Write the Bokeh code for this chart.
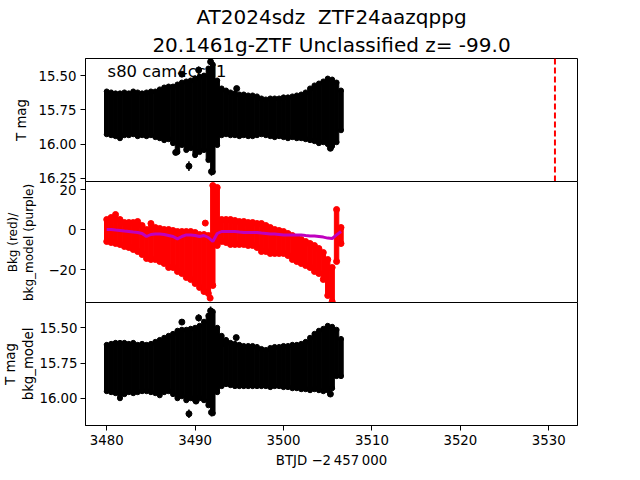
from bokeh.plotting import figure
from bokeh.layouts import column
from bokeh.models import Range1d, FixedTicker, Span, Label, PrintfTickFormatter, Title
from bokeh.embed import file_html
from bokeh.resources import INLINE

# ---------------- data ----------------
title_1 = "AT2024sdz\u00a0 ZTF24aazqppg"
title_2 = "20.1461g-ZTF Unclassified z= -99.0"
sector_text = "s80 cam4ccd1"
x_label = "BTJD \u22122\u2009457\u2009000"
y_label_1 = "T mag"
y_label_2 = "Bkg (red)/\nbkg_model (purple)"
y_label_3 = "T mag\nbkg_model"

times = [3480.0, 3480.5, 3481.0, 3481.5, 3482.0, 3482.5, 3483.0, 3483.5, 3484.0, 3484.5,
         3485.0, 3485.5, 3486.0, 3486.5, 3487.0, 3487.5, 3488.0, 3488.5, 3489.0, 3489.5,
         3490.0, 3490.5, 3491.0, 3491.5, 3492.0, 3492.5, 3493.0, 3493.5, 3494.0, 3494.5,
         3495.0, 3495.5, 3496.0, 3496.5, 3497.0, 3497.5, 3498.0, 3498.5, 3499.0, 3499.5,
         3500.0, 3500.5, 3501.0, 3501.5, 3502.0, 3502.5, 3503.0, 3503.5, 3504.0, 3504.5,
         3505.0, 3505.5, 3506.0, 3506.5]

# panel 1: T mag envelope (bright edge / faint edge)
tmag_top = [15.616, 15.623, 15.630, 15.630, 15.623, 15.630, 15.616, 15.623, 15.630, 15.623,
            15.616, 15.616, 15.601, 15.587, 15.580, 15.580, 15.565, 15.551, 15.543, 15.536,
            15.522, 15.507, 15.500, 15.449, 15.420, 15.536, 15.594, 15.609, 15.623, 15.630,
            15.638, 15.638, 15.645, 15.645, 15.652, 15.667, 15.674, 15.667, 15.667, 15.667,
            15.659, 15.659, 15.652, 15.645, 15.638, 15.623, 15.594, 15.572, 15.558, 15.543,
            15.522, 15.529, 15.551, 15.609]
tmag_bot = [15.928, 15.935, 15.942, 15.957, 15.935, 15.935, 15.928, 15.942, 15.935, 15.942,
            15.935, 15.949, 15.957, 15.971, 15.964, 15.993, 16.058, 16.007, 16.043, 16.029,
            16.080, 16.058, 16.043, 16.116, 16.203, 16.007, 15.935, 15.928, 15.935, 15.935,
            15.942, 15.935, 15.942, 15.942, 15.935, 15.928, 15.935, 15.942, 15.949, 15.942,
            15.949, 15.957, 15.949, 15.957, 15.957, 15.964, 15.971, 15.978, 15.993, 15.986,
            16.000, 16.014, 15.986, 15.899]
out1_t = [3487.8, 3488.5, 3489.3, 3490.4, 3491.75, 3491.85, 3494.7, 3505.3]
out1_m = [16.06, 15.49, 16.16, 15.46, 15.40, 16.20, 15.595, 16.03]
out1_e = [0.02, 0.02, 0.035, 0.025, 0.03, 0.03, 0.015, 0.02]
event_time = 3530.7

# panel 2: background (red) envelope and background model (purple)
bkg_top = [5, 6, 7.5, 5, 3.5, 3.5, 3.5, 4, 2, 0,
           3, 1, 0.5, 0, 0, -0.5, -1, -1, -1, -1,
           -1.5, -2.5, -2.5, -3, 22, 21, 5, 5, 5, 4.5,
           4, 4, 3.5, 3.5, 3, 3, 2, 1, 0, -0.5,
           -1, -2, -3, -4, -5, -6, -7, -8, -9.5, -11.5,
           -15, -19, 10, 1]
bkg_bot = [-6, -6.5, -7, -7.5, -8.5, -9, -10, -11, -12.5, -14.5,
           -15, -15, -16, -17, -19, -19, -21, -22, -24, -25,
           -27, -29, -31, -32, -28, -8, -6, -6.5, -7.5, -7.5,
           -7.5, -7.5, -8, -8, -9, -11, -11, -12, -12, -12,
           -12, -13, -15, -16, -17, -18, -19, -21, -22, -25,
           -33, -36, -16, -7]
bkg_model = [0, 0, -0.3, -0.5, -0.8, -1, -1.3, -1.5, -2, -3.5,
             -2.5, -2.3, -2.3, -2.5, -3, -3.5, -4.7, -3.5, -2.7, -2.7,
             -3, -3.5, -3, -4, -6, -2, -1, -1, -1, -1,
             -1.3, -1.5, -1.5, -1.5, -1.5, -1.8, -2, -2.3, -2.3, -2.5,
             -2.7, -2.7, -2.7, -2.7, -2.7, -3, -3.2, -3.3, -3.5, -3.8,
             -4.3, -4.5, -2.7, -1]
out2_t = [3491.15, 3491.7]
out2_v = [3.2, -34.3]

# panel 3: T mag after bkg_model correction
cmag_top = [15.621, 15.614, 15.607, 15.607, 15.607, 15.614, 15.607, 15.621, 15.614, 15.621,
            15.614, 15.600, 15.586, 15.571, 15.557, 15.543, 15.521, 15.514, 15.514, 15.507,
            15.500, 15.486, 15.457, 15.414, 15.386, 15.500, 15.557, 15.586, 15.607, 15.614,
            15.621, 15.629, 15.629, 15.629, 15.636, 15.650, 15.657, 15.643, 15.636, 15.636,
            15.629, 15.629, 15.621, 15.621, 15.614, 15.600, 15.571, 15.543, 15.521, 15.507,
            15.486, 15.493, 15.514, 15.579]
cmag_bot = [15.950, 15.957, 15.964, 16.000, 15.971, 15.957, 15.964, 15.957, 15.950, 15.950,
            15.957, 15.964, 15.979, 15.957, 15.950, 15.971, 16.000, 15.986, 16.014, 16.000,
            16.014, 16.000, 16.014, 16.050, 16.107, 15.957, 15.914, 15.900, 15.907, 15.914,
            15.914, 15.914, 15.914, 15.914, 15.914, 15.914, 15.914, 15.921, 15.914, 15.914,
            15.921, 15.921, 15.929, 15.929, 15.936, 15.936, 15.943, 15.936, 15.943, 15.950,
            15.943, 15.929, 15.843, 15.843]
out3_t = [3488.5, 3489.3, 3490.1, 3490.4, 3491.75, 3491.85, 3493.2, 3494.65, 3505.3]
out3_m = [15.46, 16.11, 16.02, 15.43, 15.38, 16.10, 15.61, 15.57, 15.97]
out3_e = [0.02, 0.03, 0.02, 0.025, 0.03, 0.03, 0.015, 0.015, 0.02]

x_ticks = [3480, 3490, 3500, 3510, 3520, 3530]
mag_ticks_1 = [15.50, 15.75, 16.00, 16.25]
bkg_ticks = [-20, 0, 20]
mag_ticks_3 = [15.50, 15.75, 16.00]

FONT = "DejaVu Sans"
TICK_FS = "13.3px"

x_range = Range1d(3477.6, 3533.25)


def make_fig(height, y_start, y_end, top, bottom, show_x, ylab, lab_standoff, lbl_standoff):
    p = figure(width=640, height=height, x_range=x_range,
               y_range=Range1d(y_start, y_end),
               output_backend="svg", toolbar_location=None,
               min_border_left=81, min_border_right=63,
               min_border_top=top, min_border_bottom=bottom,
               x_axis_location="below" if show_x else None)
    p.grid.visible = False
    p.outline_line_color = "black"
    p.outline_line_width = 1
    p.outline_line_alpha = 1
    p.background_fill_color = "white"
    p.border_fill_color = "white"
    for ax in p.axis:
        ax.major_label_text_font = FONT
        ax.major_label_text_font_size = TICK_FS
        ax.major_label_text_color = "black"
        ax.major_tick_out = 5
        ax.major_tick_in = 0
        ax.minor_tick_line_color = None
        ax.axis_line_color = "black"
        ax.major_tick_line_color = "black"
        ax.major_label_standoff = lbl_standoff
        ax.axis_label_text_font = FONT
        ax.axis_label_text_font_size = TICK_FS
        ax.axis_label_text_font_style = "normal"
        ax.axis_label_text_color = "black"
    p.yaxis.axis_label = ylab
    p.yaxis.axis_label_standoff = lab_standoff
    return p


# ---------------- panel 1 ----------------
# extra 8 px of bottom border so the lowest tick label is not clipped;
# panel 2 is pulled up over it with a negative margin
p1 = make_fig(189, 16.272, 15.376, 58, 8, False, y_label_1, 6, 4)
p1.title.text = title_1
p1.title.align = "center"
p1.title.text_font = FONT
p1.title.text_font_size = "20px"
p1.title.text_font_style = "normal"
p1.title.text_color = "black"
p1.title.standoff = 0
p1.add_layout(Title(text=title_2, align="center", text_font=FONT, text_font_size="20px",
                    text_font_style="normal", text_color="black", standoff=4), "above")
p1.yaxis.ticker = FixedTicker(ticks=mag_ticks_1)
p1.yaxis.formatter = PrintfTickFormatter(format="%.2f")
p1.vbar(x=times, width=0.5, top=tmag_top, bottom=tmag_bot, color="black")
p1.scatter(times, tmag_top, size=5, color="black")
p1.scatter(times, tmag_bot, size=5, color="black")
p1.segment(x0=out1_t, x1=out1_t,
           y0=[m - e for m, e in zip(out1_m, out1_e)],
           y1=[m + e for m, e in zip(out1_m, out1_e)], line_color="black", line_width=1.5)
p1.scatter(out1_t, out1_m, size=6, color="black")
p1.add_layout(Span(location=event_time, dimension="height", line_color="red",
                   line_width=2, line_dash="6 3"))
p1.add_layout(Label(x=3480.1, y=15.474, text=sector_text, text_font=FONT,
                    text_font_size="16.4px", text_baseline="alphabetic",
                    text_align="left", text_color="black"))

# ---------------- panel 2 ----------------
p2 = make_fig(122, -37, 24, 0, 0, False, y_label_2, 9, 4)
p2.border_fill_alpha = 0
p2.margin = (-8, 0, 0, 0)
p2.yaxis.axis_label_text_font_size = "12px"
p2.yaxis.ticker = FixedTicker(ticks=bkg_ticks)
p2.yaxis.major_label_overrides = {-20: "\u221220", 0: "0", 20: "20"}
p2.vbar(x=times, width=0.5, top=bkg_top, bottom=bkg_bot, color="red")
p2.scatter(times, bkg_top, size=6, color="red")
p2.scatter(times, bkg_bot, size=6, color="red")
p2.scatter(out2_t, out2_v, size=6, color="red")
p2.line(times, bkg_model, line_color="#bf00bf", line_width=3)

# ---------------- panel 3 ----------------
p3 = make_fig(178, 16.193, 15.321, 0, 55, True, y_label_3, 0, 3)
p3.border_fill_alpha = 0
p3.margin = (-1, 0, 0, 0)
p3.yaxis.ticker = FixedTicker(ticks=mag_ticks_3)
p3.yaxis.formatter = PrintfTickFormatter(format="%.2f")
p3.xaxis.ticker = FixedTicker(ticks=x_ticks)
p3.xaxis.axis_label = x_label
p3.xaxis.axis_label_standoff = 5
p3.xaxis.major_label_standoff = 4
p3.vbar(x=times, width=0.5, top=cmag_top, bottom=cmag_bot, color="black")
p3.scatter(times, cmag_top, size=5, color="black")
p3.scatter(times, cmag_bot, size=5, color="black")
p3.segment(x0=out3_t, x1=out3_t,
           y0=[m - e for m, e in zip(out3_m, out3_e)],
           y1=[m + e for m, e in zip(out3_m, out3_e)], line_color="black", line_width=1.5)
p3.scatter(out3_t, out3_m, size=6, color="black")

layout = column(p1, p2, p3, spacing=0)
open("out.html", "w").write(file_html(layout, INLINE))
